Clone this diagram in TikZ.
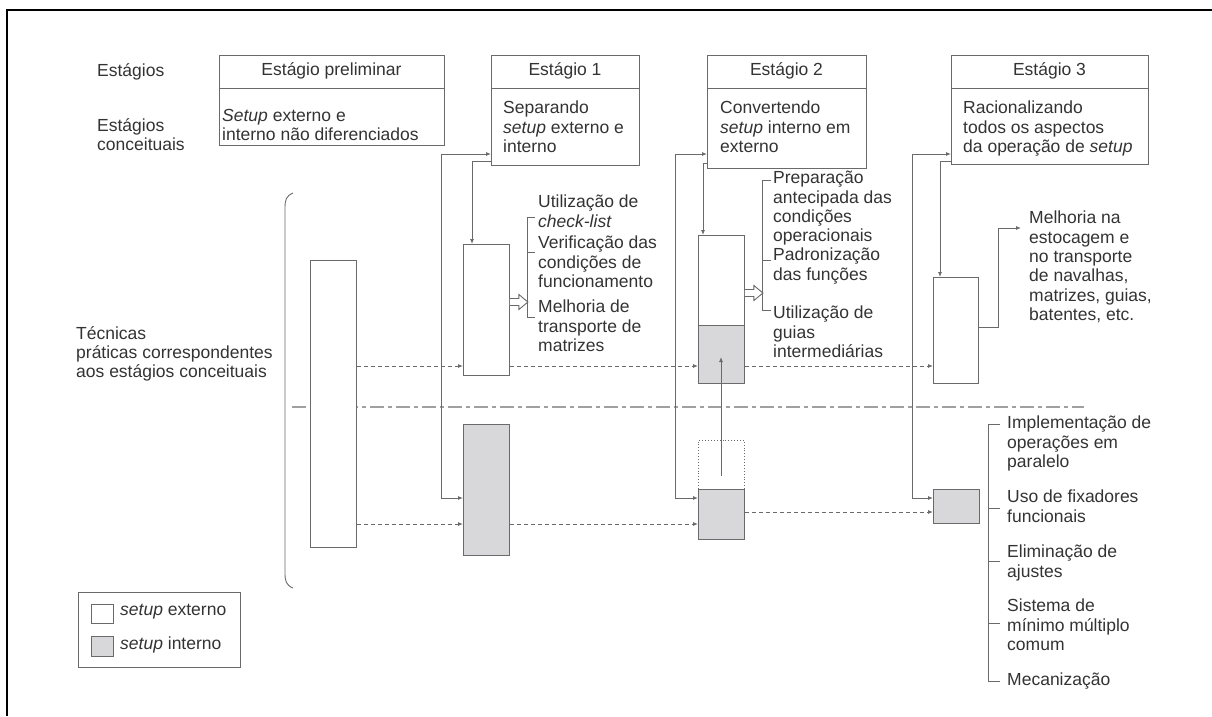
\documentclass[tikz,border=0pt]{standalone}
\usepackage{fontspec}
\setmainfont{Liberation Sans}
\usetikzlibrary{arrows.meta,positioning}
\definecolor{linegray}{HTML}{6A6A6A}
\definecolor{boxgray}{HTML}{D8D8DA}
\definecolor{txtgray}{HTML}{333333}
\definecolor{dashgray}{HTML}{A0A0A0}

\tikzset{
  lbl/.style={anchor=north west, inner sep=0pt, align=left, text=txtgray,
    font=\fontsize{17.5}{19.3}\selectfont},
  title/.style={inner sep=0pt, text=txtgray, font=\fontsize{17.5}{19.3}\selectfont},
  bx/.style={draw=linegray, line width=0.9pt, inner sep=0pt, anchor=north west},
  ext/.style={bx, fill=white},
  intr/.style={bx, fill=boxgray},
  feed/.style={draw=linegray, line width=0.9pt, -{Latex[length=5pt,width=4pt]}},
  feedboth/.style={feed, {Latex[length=5pt,width=4pt]}-{Latex[length=5pt,width=4pt]}},
  dasharrow/.style={feed, dash pattern=on 4pt off 3pt},
  brk/.style={draw=linegray, line width=0.9pt},
  hollowarrow/.pic={
    \draw[linegray, line width=0.9pt, fill=white]
      (0,-3.5) -- (9,-3.5) -- (9,-7.5) -- (18,0) -- (9,7.5) -- (9,3.5) -- (0,3.5);
  }
}

\begin{document}
\begin{tikzpicture}[x=1pt, y=-1pt]
\useasboundingbox (0,0) rectangle (1212,716);
\draw[black, line width=2.5pt] (1212,10) -- (7,10) -- (7,716);

% row labels
\node[lbl] (rowst) at (97,63) {Estágios};
\node[lbl] (rowcon) at (97,118) {Estágios\\conceituais};
\node[lbl] (rowtec) at (76,326) {Técnicas\\práticas correspondentes\\aos estágios conceituais};

% stage boxes
\node[bx, minimum width=225, minimum height=90] (s0) at (219,55) {};
\node[bx, minimum width=148, minimum height=110] (s1) at (491,55) {};
\node[bx, minimum width=159, minimum height=113] (s2) at (707,55) {};
\node[bx, minimum width=197, minimum height=109] (s3) at (951,55) {};
\foreach \s in {s0,s1,s2,s3}
  \draw[brk] (\s.west |- 0,88) -- (\s.east |- 0,88);

\node[title] (t0) at (331.5,71) {Estágio preliminar};
\node[title] (t1) at (565,71) {Estágio 1};
\node[title] (t2) at (786.5,71) {Estágio 2};
\node[title] (t3) at (1049.5,71) {Estágio 3};

\node[lbl] (c0) at (222,109) {\textit{Setup} externo e\\interno não diferenciados};
\node[lbl] (c1) at (503,101) {Separando\\\textit{setup} externo e\\interno};
\node[lbl] (c2) at (720,101) {Convertendo\\\textit{setup} interno em\\externo};
\node[lbl] (c3) at (963,101) {Racionalizando\\todos os aspectos\\da operação de \textit{setup}};

% brace and divider
\draw[brk] (293,193) .. controls (286,196) and (285,200) .. (285,208)
  -- (285,573) .. controls (285,581) and (286,585) .. (293,588);
\draw[dashgray, line width=1.6pt, dash pattern=on 14pt off 4pt on 4pt off 4pt]
  (292,407) -- (1084,407);

% setup blocks
\node[ext, minimum width=46, minimum height=287] (pre) at (310,260) {};
\node[ext, minimum width=46, minimum height=131] (u1) at (463,244) {};
\node[intr, minimum width=46, minimum height=131] (l1) at (463,424) {};
\node[ext, minimum width=46, minimum height=90] (u2) at (698,235) {};
\node[intr, minimum width=46, minimum height=58] (g2) at (698,325) {};
\node[bx, dotted, minimum width=46, minimum height=49] (d2) at (698,440) {};
\node[intr, minimum width=46, minimum height=50] (l2) at (698,489) {};
\node[ext, minimum width=45, minimum height=106] (u3) at (933,277) {};
\node[intr, minimum width=46, minimum height=34] (l3) at (933,489) {};

% feed lines
\coordinate (f1) at (441,154);
\coordinate (f2) at (675,154);
\coordinate (f3) at (912,154);
\draw[feedboth] (s1.west |- f1) -- (f1) -- (f1 |- 0,498) -- (l1.west |- 0,498);
\draw[feedboth] (s2.west |- f2) -- (f2) -- (f2 |- 0,498) -- (l2.west |- 0,498);
\draw[feedboth] (s3.west |- f3) -- (f3) -- (f3 |- 0,498) -- (l3.west |- 0,498);
\draw[feed] (s1.west |- 0,161) -- (472,161) -- (u1.north -| 472,0);
\draw[feed] (s2.west |- 0,163) -- (703,163) -- (u2.north -| 703,0);
\draw[feed] (s3.west |- 0,161) -- (940,161) -- (u3.north -| 940,0);

% transfer arrows
\draw[dasharrow] (pre.east |- 0,366) -- (u1.west |- 0,366);
\draw[dasharrow] (u1.east |- 0,366) -- (g2.west |- 0,366);
\draw[dasharrow] (g2.east |- 0,366) -- (u3.west |- 0,366);
\draw[dasharrow] (pre.east |- 0,524) -- (l1.west |- 0,524);
\draw[dasharrow] (l1.east |- 0,524) -- (l2.west |- 0,524);
\draw[dasharrow] (l2.east |- 0,512) -- (l3.west |- 0,512);
\coordinate (up0) at (721,476);
\draw[feed] (up0) -- (up0 |- 0,357);

% stage 1 techniques
\pic at (u1.east |- 0,302) {hollowarrow};
\draw[brk] (535,217) -- (527,217) -- (527,317) -- (535,317);
\draw[brk] (527,252) -- (535,252);
\node[lbl] (k1a) at (538,195) {Utilização de\\\textit{check-list}};
\node[lbl] (k1b) at (538,236) {Verificação das\\condições de\\funcionamento};
\node[lbl] (k1c) at (538,300) {Melhoria de\\transporte de\\matrizes};

% stage 2 techniques
\pic at (u2.east |- 0,293) {hollowarrow};
\draw[brk] (771,180) -- (762,180) -- (762,310) -- (771,310);
\draw[brk] (762,260) -- (771,260);
\node[lbl] (k2a) at (773,171) {Preparação\\antecipada das\\condições\\operacionais};
\node[lbl] (k2b) at (773,248) {Padronização\\das funções};
\node[lbl] (k2c) at (773,306) {Utilização de\\guias\\intermediárias};

% stage 3 techniques
\coordinate (o3) at (998,228);
\draw[feed] (u3.east |- 0,327) -- (o3 |- 0,327) -- (o3) -- (1021,228);
\node[lbl] (k3) at (1029,211) {Melhoria na\\estocagem e\\no transporte\\de navalhas,\\matrizes, guias,\\batentes, etc.};

\draw[brk] (1000,424) -- (988,424) -- (988,681) -- (1000,681);
\foreach \y in {508,561,623}
  \draw[brk] (988,\y) -- (1000,\y);
\node[lbl] (m1) at (1007,416) {Implementação de\\operações em\\paralelo};
\node[lbl] (m2) at (1007,490) {Uso de fixadores\\funcionais};
\node[lbl] (m3) at (1007,545) {Eliminação de\\ajustes};
\node[lbl] (m4) at (1007,599) {Sistema de\\mínimo múltiplo\\comum};
\node[lbl] (m5) at (1007,673) {Mecanização};

% legend
\node[bx, draw=linegray, minimum width=162, minimum height=75] (leg) at (78,592) {};
\node[ext, minimum width=22, minimum height=19] (lege) at (91,604) {};
\node[intr, minimum width=22, minimum height=20] (legi) at (91,636) {};
\node[lbl, anchor=west] (legte) at (120,612) {\textit{setup} externo};
\node[lbl, anchor=west] (legti) at (120,645) {\textit{setup} interno};
\end{tikzpicture}
\end{document}
